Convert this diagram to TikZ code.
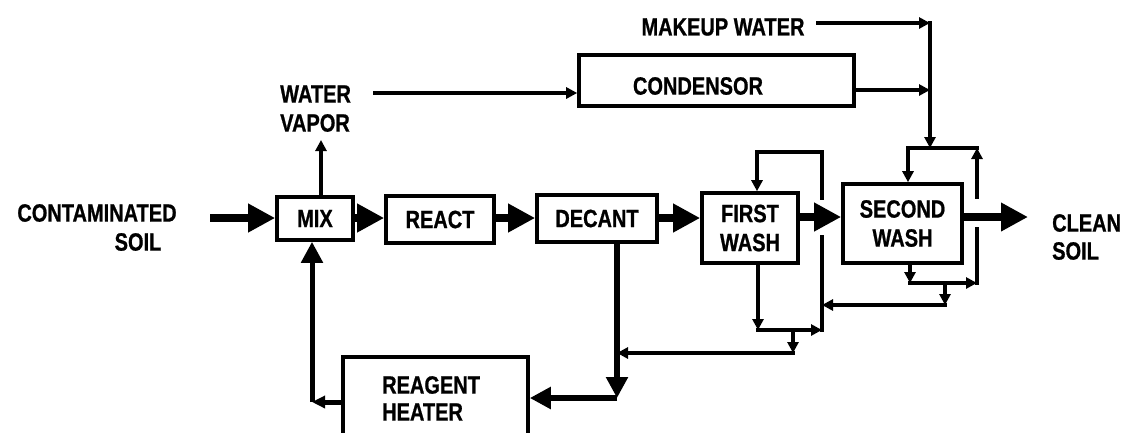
\documentclass[tikz,border=0pt]{standalone}
\usepackage{fontspec}
\setmainfont{Liberation Sans}[FakeStretch=0.8, BoldFeatures={FakeBold=0.8}]
\usetikzlibrary{arrows.meta}
\newcommand\dfont{\bfseries\fontsize{25}{29}\selectfont}
\begin{document}
\begin{tikzpicture}[x=1pt,y=-1pt,
  box/.style={draw, line width=3.6pt, inner sep=0pt, font=\dfont},
  txt/.style={inner sep=0pt, font=\dfont},
  wline/.style={line width=3.6pt, line cap=rect},
  tline/.style={line width=8pt},
  mline/.style={line width=5pt, line cap=rect},
  bigarr/.style={-{Triangle[length=27pt,width=27pt]}},
  midarr/.style={-{Triangle[length=21pt,width=21pt]}},
  smarr/.style={-{Triangle[length=11pt,width=11pt]}},
]
\useasboundingbox (0,0) rectangle (1124,432);
\clip (0,0) rectangle (1124,432);

% texts
\node[txt] (cont1) at (97,213) {CONTAMINATED};
\node[txt] (cont2) at (138,242) {SOIL};
\node[txt, anchor=west] (wv1) at (280,94) {WATER};
\node[txt, anchor=west] (wv2) at (280,123) {VAPOR};
\node[txt] (mk) at (723,27) {MAKEUP WATER};
\node[txt, anchor=west] (cl1) at (1052,223) {CLEAN};
\node[txt, anchor=west] (cl2) at (1052,251) {SOIL};

% boxes
\node[box, minimum width=76pt, minimum height=43pt] (mix) at (315,218.5) {MIX};
\node[box, minimum width=108pt, minimum height=47pt] (react) at (440,219.5) {REACT};
\node[box, minimum width=120pt, minimum height=47pt] (decant) at (597,218.5) {DECANT};
\node[box, minimum width=96pt, minimum height=70pt, align=center] (wash1) at (750,228) {FIRST\\WASH};
\node[box, minimum width=119pt, minimum height=79pt, align=center] (wash2) at (902.5,223.5) {SECOND\\WASH};
\node[box, minimum width=275pt, minimum height=51pt] (cond) at (716.5,80.5) {};
\node[txt] (condl) at (698,86) {CONDENSOR};
\node[box, minimum width=185pt, minimum height=90pt] (heat) at (435.5,402) {};
\node[txt, anchor=west] (heat1) at (382,385) {REAGENT};
\node[txt, anchor=west] (heat2) at (382,412) {HEATER};

% main line
\coordinate (inS) at (210,218);
\coordinate (outE) at (1028,217);
\draw[tline,bigarr] (inS) -- (mix.west |- inS);
\draw[tline,bigarr] (mix.east |- inS) -- (react.west |- inS);
\draw[tline,bigarr] (react.east |- inS) -- (decant.west |- inS);
\draw[tline,bigarr] (decant.east |- inS) -- (wash1.west |- inS);
\draw[tline,bigarr] (wash1.east |- outE) -- (wash2.west |- outE);
\draw[tline,bigarr] (wash2.east |- outE) -- (outE);

% water vapor and condensor
\coordinate (vapE) at (321,140);
\draw[wline,smarr] (mix.north -| vapE) -- (vapE);
\coordinate (wvS) at (375,93);
\draw[wline,smarr] (wvS) -- (cond.west |- wvS);
\coordinate (j1) at (930,90);
\draw[wline,smarr] (cond.east |- j1) -- (j1);
\coordinate (mkS) at (818,23);
\coordinate (mkC) at (930,23);
\coordinate (mkD) at (930,148);
\draw[wline,smarr] (mkS) -- (mkC);
\draw[wline,smarr] (mkC) -- (mkD);

% second wash loop
\coordinate (L2T) at (908,148);
\coordinate (R2T) at (977,148);
\coordinate (R2B) at (977,283);
\coordinate (L2B) at (910,283);
\coordinate (R2g1) at (977,197);
\coordinate (R2g2) at (977,229);
\draw[wline] (L2T) -- (R2T);
\draw[wline,smarr] (L2T) -- (L2T |- wash2.north);
\draw[wline,smarr] (R2g1) -- (R2T);
\draw[wline] (R2g2) -- (R2B);
\draw[wline,smarr] (wash2.south -| L2B) -- (L2B);
\draw[wline,smarr] (L2B) -- (R2B);
\coordinate (B2) at (945,283);
\coordinate (B2d) at (945,305);
\coordinate (B2e) at (822,305);
\draw[wline,smarr] (B2) -- (B2d);
\draw[wline,smarr] (B2d) -- (B2e);

% first wash loop
\coordinate (L1T) at (757,152);
\coordinate (R1T) at (822,152);
\coordinate (R1B) at (822,330);
\coordinate (L1B) at (758,330);
\coordinate (R1g1) at (822,198);
\coordinate (R1g2) at (822,237);
\draw[wline] (R1g1) -- (R1T) -- (L1T);
\draw[wline,smarr] (L1T) -- (L1T |- wash1.north);
\draw[wline] (R1g2) -- (R1B);
\draw[wline,smarr] (wash1.south -| L1B) -- (L1B);
\draw[wline,smarr] (L1B) -- (R1B);
\coordinate (B1) at (793,330);
\coordinate (B1d) at (793,353);
\coordinate (B1e) at (617,353);
\draw[wline,smarr] (B1) -- (B1d);
\draw[wline,smarr] (B1d) -- (B1e);

% decant to heater, heater to mix
\coordinate (dC) at (617,398);
\draw[line width=6pt,midarr] (decant.south -| dC) -- (dC);
\draw[line width=6pt,midarr] (dC) -- (heat.east |- dC);
\coordinate (hC) at (312,402);
\draw[mline,-{Triangle[length=13pt,width=12pt]}] (heat.west |- hC) -- (hC);
\draw[line width=5pt,midarr] (hC) -- (mix.south -| hC);
\end{tikzpicture}
\end{document}
